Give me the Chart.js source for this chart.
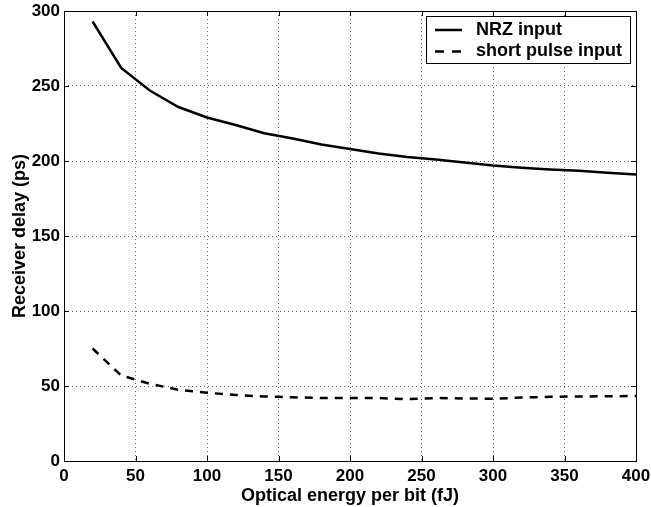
<!DOCTYPE html>
<html>
<head>
<meta charset="utf-8">
<script src="https://cdn.jsdelivr.net/npm/chart.js@4/dist/chart.umd.min.js"></script>
<style>
  html, body { margin: 0; padding: 0; background: #fff; }
  #wrap { width: 651px; height: 507px; }
</style>
</head>
<body>
<div id="wrap"><canvas id="delayChart" width="651" height="507"></canvas></div>
<script>
// --- Datos ---
const energy = [20, 40, 60, 80, 100, 120, 140, 160, 180, 200, 220, 240, 260, 280, 300, 320, 340, 360, 380, 400];
const nrzDelay = [293, 262, 247, 236, 229, 224, 218.5, 215, 211, 208, 205, 202.7, 201, 199, 197, 195.5, 194.3, 193.5, 192.2, 191];
const pulseDelay = [75, 57, 51.5, 47.5, 45.5, 44, 43, 42.5, 42, 42, 42, 41.2, 42, 41.7, 41.5, 42.3, 42.8, 43, 43.2, 43.3];
const xTicks = [0, 50, 100, 150, 200, 250, 300, 350, 400];
const yTicks = [0, 50, 100, 150, 200, 250, 300];
const seriesNames = ['NRZ input', 'short pulse input'];

const FONT = 'Liberation Sans, Arial, sans-serif';

function toPoints(xs, ys) {
  return xs.map((x, i) => ({ x: x, y: ys[i] }));
}

/**
 * Dibuja el marco, las marcas hacia dentro y la leyenda (estilo Matlab).
 */
const frameAndLegend = {
  id: 'frameAndLegend',
  afterDraw(chart) {
    const ctx = chart.ctx;
    const a = chart.chartArea;
    const xs = chart.scales.x;
    const ys = chart.scales.y;
    const tick = 5;

    ctx.save();
    ctx.strokeStyle = '#000';
    ctx.lineWidth = 1;
    ctx.strokeRect(Math.round(a.left) + 0.5, Math.round(a.top) + 0.5,
      Math.round(a.right - a.left), Math.round(a.bottom - a.top));

    ctx.beginPath();
    xTicks.forEach(v => {
      const px = Math.round(xs.getPixelForValue(v)) + 0.5;
      ctx.moveTo(px, a.bottom); ctx.lineTo(px, a.bottom - tick);
      ctx.moveTo(px, a.top); ctx.lineTo(px, a.top + tick);
    });
    yTicks.forEach(v => {
      const py = Math.round(ys.getPixelForValue(v)) + 0.5;
      ctx.moveTo(a.left, py); ctx.lineTo(a.left + tick, py);
      ctx.moveTo(a.right, py); ctx.lineTo(a.right - tick, py);
    });
    ctx.stroke();

    // Leyenda
    const box = { x: 426.5, y: 16.5, w: 204, h: 47 };
    ctx.fillStyle = '#fff';
    ctx.fillRect(box.x, box.y, box.w, box.h);
    ctx.strokeRect(box.x, box.y, box.w, box.h);

    ctx.lineWidth = 2.5;
    ctx.beginPath();
    ctx.moveTo(435, 30); ctx.lineTo(462, 30);
    ctx.stroke();
    ctx.setLineDash([9, 8]);
    ctx.beginPath();
    ctx.moveTo(435, 51.5); ctx.lineTo(462, 51.5);
    ctx.stroke();
    ctx.setLineDash([]);

    ctx.fillStyle = '#000';
    ctx.font = 'bold 18px ' + FONT;
    ctx.textAlign = 'left';
    ctx.textBaseline = 'middle';
    ctx.fillText(seriesNames[0], 476, 30.5);
    ctx.fillText(seriesNames[1], 476, 51.5);
    ctx.restore();
  }
};

function renderChart() {
  const ctx = document.getElementById('delayChart');

  new Chart(ctx, {
    type: 'line',
    data: {
      datasets: [{
        label: seriesNames[0],
        data: toPoints(energy, nrzDelay),
        borderColor: '#000',
        borderWidth: 2.5,
        pointRadius: 0,
        fill: false,
        tension: 0
      }, {
        label: seriesNames[1],
        data: toPoints(energy, pulseDelay),
        borderColor: '#000',
        borderWidth: 2.5,
        borderDash: [8, 7],
        pointRadius: 0,
        fill: false,
        tension: 0
      }]
    },
    options: {
      responsive: false,
      animation: false,
      devicePixelRatio: 1,
      layout: { padding: { top: 11, right: 15, left: 9, bottom: 0 } },
      plugins: {
        legend: { display: false },
        tooltip: { enabled: false }
      },
      scales: {
        x: {
          type: 'linear',
          min: 0,
          max: 400,
          afterBuildTicks: s => { s.ticks = xTicks.map(v => ({ value: v })); },
          afterFit: s => { s.height = 46; s.paddingLeft = 0; s.paddingRight = 0; },
          border: { display: false, dash: [1, 3] },
          grid: { color: '#666', lineWidth: 1, drawTicks: false },
          ticks: {
            color: '#000',
            padding: 5,
            font: { family: FONT, size: 17, weight: 'bold' },
            maxRotation: 0
          },
          title: {
            display: true,
            text: 'Optical energy per bit (fJ)',
            color: '#000',
            font: { family: FONT, size: 18, weight: 'bold' },
            padding: { top: 0, bottom: 0 }
          }
        },
        y: {
          min: 0,
          max: 300,
          afterBuildTicks: s => { s.ticks = yTicks.map(v => ({ value: v })); },
          afterFit: s => { s.width = 55; s.paddingTop = 0; s.paddingBottom = 0; },
          border: { display: false, dash: [1, 3] },
          grid: { color: '#666', lineWidth: 1, drawTicks: false },
          ticks: {
            color: '#000',
            padding: 4,
            font: { family: FONT, size: 17, weight: 'bold' }
          },
          title: {
            display: true,
            text: 'Receiver delay (ps)',
            color: '#000',
            font: { family: FONT, size: 18, weight: 'bold' },
            padding: { top: 0, bottom: 0 }
          }
        }
      }
    },
    plugins: [frameAndLegend]
  });
}

document.addEventListener('DOMContentLoaded', renderChart);
</script>
</body>
</html>
